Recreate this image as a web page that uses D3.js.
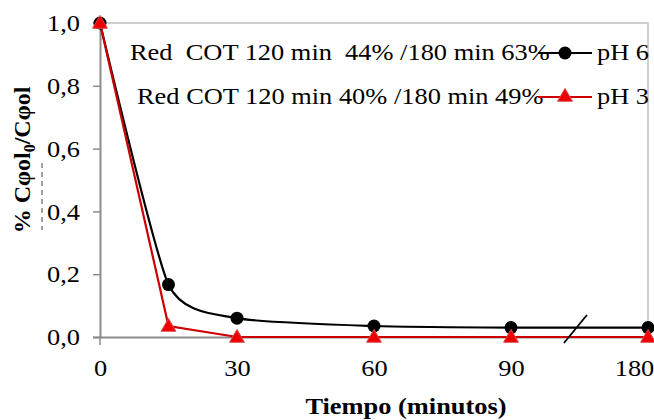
<!DOCTYPE html>
<html>
<head>
<meta charset="utf-8">
<script src="https://cdn.jsdelivr.net/npm/d3@7"></script>
</head>
<body style="margin:0;background:#fff">
<svg id="chart" width="654" height="420"></svg>
<script>
// datos
const tiempos = [0, 15, 30, 60, 90, 180]
const ph6 = [1.0, 0.167, 0.06, 0.035, 0.03, 0.03]
const ph3 = [1.0, 0.035, 0.0, 0.0, 0.0, 0.0]
const xTicks = [0, 30, 60, 90, 180]
const yTicks = [0, 0.2, 0.4, 0.6, 0.8, 1.0]
const leyenda = [
  {texto: 'Red\u00a0 COT 120 min\u00a0 44% /180 min 63%', serie: 'pH 6'},
  {texto: 'Red COT 120 min 40% /180 min 49%', serie: 'pH 3'}
]
const corteEn = 132

const plotL = 100, plotR = 648, plotT = 23, plotB = 337
const axisColor = '#8c8c8c'
const frameColor = '#c0c0c0'
const red = '#cc0000'
const serif = "'Liberation Serif'"
const stretch = 1.1  // el original esta algo ensanchado

const svg = d3.select('#chart')

let fuente = (sel, size, bold) => {
  sel.style('font-family', serif)
    .style('font-size', size + 'px')
    .style('font-weight', bold ? 'bold' : 'normal')
    .attr('fill', '#000')
}

let ensanchar = (sel) => {
  sel.each(function () {
    const w = this.getComputedTextLength()
    d3.select(this).attr('textLength', w * stretch).attr('lengthAdjust', 'spacingAndGlyphs')
  })
}

// eje x por categorias, igual separacion
const step = (plotR - plotL) / (xTicks.length - 1)
const x = d3.scaleLinear()
  .domain(xTicks)
  .range(xTicks.map((d, i) => plotL + i * step))
const y = d3.scaleLinear().domain([0, 1]).range([plotB, plotT])

// marco del area
svg.append('path')
  .attr('d', `M${plotL},${plotT}H${plotR}V${plotB}`)
  .attr('fill', 'none')
  .attr('stroke', frameColor)
  .attr('stroke-width', 1.5)

// eje y
const yAxis = svg.append('g')
  .attr('transform', `translate(${plotL},0)`)
  .call(d3.axisLeft(y).tickValues(yTicks).tickSize(7).tickPadding(13)
    .tickFormat(d => d3.format('.1f')(d).replace('.', ',')))
yAxis.select('.domain').attr('stroke', axisColor).attr('stroke-width', 2)
yAxis.selectAll('.tick line').attr('stroke', axisColor).attr('stroke-width', 1.5)
yAxis.selectAll('.tick text').call(fuente, 24).call(ensanchar)

// eje x
const xAxis = svg.append('g')
  .attr('transform', `translate(0,${plotB})`)
  .call(d3.axisBottom(x).tickValues(xTicks).tickSize(0).tickPadding(22)
    .tickFormat(d3.format('d')))
xAxis.select('.domain').attr('stroke', axisColor).attr('stroke-width', 2)
xAxis.selectAll('.tick text').call(fuente, 24).call(ensanchar)
xAxis.selectAll('.tick text').filter(d => d === 180).attr('dx', -14)
// solo una marca en el origen
svg.append('line')
  .attr('x1', x(0)).attr('x2', x(0))
  .attr('y1', plotB).attr('y2', plotB + 8)
  .attr('stroke', axisColor).attr('stroke-width', 1.5)

// linea discontinua suelta junto a la etiqueta
svg.append('line')
  .attr('x1', 42).attr('x2', 42)
  .attr('y1', 163).attr('y2', 230)
  .attr('stroke', '#444').attr('stroke-width', 1)
  .attr('stroke-dasharray', '5,4')

// series
const pts6 = tiempos.map((t, i) => [x(t), y(ph6[i])])
const pts3 = tiempos.map((t, i) => [x(t), y(ph3[i])])

svg.append('path')
  .attr('d', d3.line().curve(d3.curveCardinal.tension(0.4))(pts6))
  .attr('fill', 'none').attr('stroke', '#000').attr('stroke-width', 2.2)

svg.append('path')
  .attr('d', d3.line()(pts3))
  .attr('fill', 'none').attr('stroke', red).attr('stroke-width', 2.2)

// marca de corte
svg.append('line')
  .attr('x1', x(corteEn) - 11).attr('y1', plotB + 6)
  .attr('x2', x(corteEn) + 12).attr('y2', plotB - 22)
  .attr('stroke', '#000').attr('stroke-width', 1.8)

const tri = d3.symbol().type(d3.symbolTriangle).size(95)

svg.append('g').selectAll('circle')
  .data(pts6).enter().append('circle')
  .attr('cx', d => d[0]).attr('cy', d => d[1]).attr('r', 6.5)
  .attr('fill', '#000')

svg.append('g').selectAll('path')
  .data(pts3).enter().append('path')
  .attr('d', tri)
  .attr('transform', d => `translate(${d[0]},${d[1] + 1})`)
  .attr('fill', '#ee0000').attr('stroke', '#e04848').attr('stroke-width', 1)

// leyenda
const rows = [
  {yLine: 53, textX: 130, color: '#000'},
  {yLine: 97, textX: 137, color: red}
]
leyenda.forEach((l, i) => {
  const r = rows[i]
  svg.append('text')
    .attr('x', r.textX).attr('y', r.yLine + 7)
    .text(l.texto)
    .call(fuente, 24).call(ensanchar)
  svg.append('line')
    .attr('x1', 538).attr('x2', 592)
    .attr('y1', r.yLine).attr('y2', r.yLine)
    .attr('stroke', r.color).attr('stroke-width', 2.2)
  if (i === 0) {
    svg.append('circle').attr('cx', 565).attr('cy', r.yLine).attr('r', 6.5).attr('fill', '#000')
  } else {
    svg.append('path').attr('d', tri)
      .attr('transform', `translate(565,${r.yLine})`)
      .attr('fill', '#ee0000').attr('stroke', '#e04848').attr('stroke-width', 1)
  }
  svg.append('text')
    .attr('x', 597).attr('y', r.yLine + 7)
    .text(l.serie)
    .call(fuente, 24).call(ensanchar)
})

// titulos de ejes
svg.append('text')
  .attr('x', 406).attr('y', 414)
  .attr('text-anchor', 'middle')
  .text('Tiempo (minutos)')
  .call(fuente, 24, true).call(ensanchar)

const yl = svg.append('text')
  .attr('transform', 'translate(30,160) rotate(-90)')
  .attr('text-anchor', 'middle')
  .call(fuente, 24, true)
yl.append('tspan').text('% C\u03c6ol')
yl.append('tspan').attr('dy', 5).style('font-size', '16px').text('0')
yl.append('tspan').attr('dy', -5).text('/C\u03c6ol')
</script>
</body>
</html>
